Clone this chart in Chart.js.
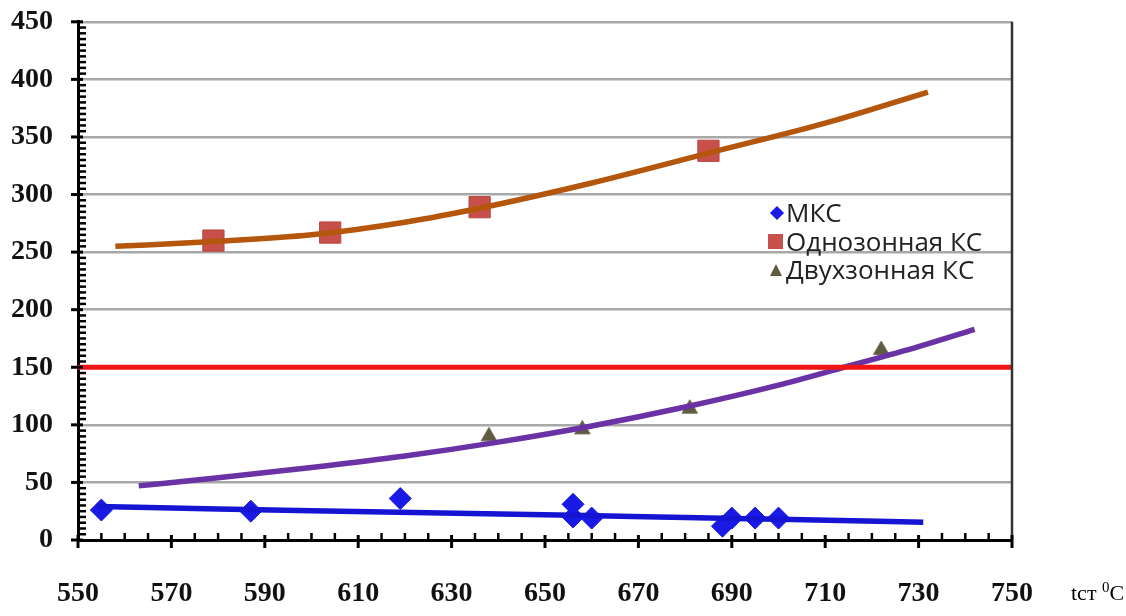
<!DOCTYPE html>
<html>
<head>
<meta charset="utf-8">
<script src="https://cdn.jsdelivr.net/npm/chart.js@4.4.1/dist/chart.umd.min.js"></script>
<style>
    body { margin: 0; background: #fff; }
    #wrap { position: relative; width: 1126px; height: 616px; overflow: hidden; }
    canvas { position: absolute; left: 0; top: -20px; }
    .legend { position: absolute; left: 766px; top: 198px; font-family: "Open Sans", "Liberation Sans", sans-serif; font-size: 26px; color: #222; }
    .legend .row { position: relative; height: 28.5px; line-height: 29px; padding-left: 20px; }
    .mk { position: absolute; }
    .mk.diamond { left: 6px; top: 10px; width: 10px; height: 10px; background: #1a1ae6; transform: rotate(45deg); }
    .mk.square { left: 2px; top: 7px; width: 15px; height: 15px; background: #c8504a; }
    .mk.tri { left: 4px; top: 9px; width: 0; height: 0; border-left: 6px solid transparent; border-right: 6px solid transparent; border-bottom: 12px solid #5e5b40; }
    .xtitle { position: absolute; left: 1071px; top: 580px; font-family: "Liberation Serif", "Times New Roman", serif; font-size: 22px; color: #000; }
    .xtitle sup { font-size: 15px; vertical-align: 8px; line-height: 0; }
</style>
</head>
<body>
<div id="wrap">
    <canvas id="tempChart" width="1126" height="636"></canvas>
    <div class="legend">
        <div class="row"><span class="mk diamond"></span>МКС</div>
        <div class="row"><span class="mk square"></span>Однозонная КС</div>
        <div class="row"><span class="mk tri"></span>Двухзонная КС</div>
    </div>
    <div class="xtitle">tст <sup>0</sup>C</div>
</div>
<script>
// Значения
const xRange = [550, 750];
const yRange = [0, 450];
const xStep = 20;
const yStep = 50;
const limitLevel = 150;

// МКС (точки)
const mksX = [555, 587, 619, 656, 656, 660, 688, 690, 695, 700];
const mksY = [26, 25, 36, 31, 20, 19, 12, 19, 19, 19];
// Однозонная КС (точки)
const oneZoneX = [579, 604, 636, 685];
const oneZoneY = [260, 267, 289, 338];
// Двухзонная КС (точки)
const twoZoneX = [638, 658, 681, 722];
const twoZoneY = [90, 96, 114, 165];

// линии тренда, считанные по картинке
const mksTrendX = [554, 580, 600, 628, 656, 680, 700, 731];
const mksTrendY = [29, 27, 25.5, 23.5, 21.5, 19.5, 18, 15.5];
const oneTrendX = [558, 578, 600, 620, 637, 660, 686, 710, 732];
const oneTrendY = [255, 259, 265, 276, 289, 310, 337, 362, 389];
const twoTrendX = [563, 580, 600, 620, 640, 660, 680, 700, 714, 730, 742];
const twoTrendY = [47, 54, 63, 73, 85, 99, 115.5, 134.5, 150, 168, 183];

function pts(xs, ys) {
    return xs.map((x, i) => ({ x: x, y: ys[i] }));
}

const trendStyle = {
    showLine: true,
    pointRadius: 0,
    borderWidth: 5.5,
    fill: false,
    order: 1,
    cubicInterpolationMode: 'monotone'
};

// засечки осей и правая рамка
const axisTicks = {
    id: 'axisTicks',
    afterDraw(chart) {
        const { ctx, chartArea: a, scales: { x, y } } = chart;
        ctx.save();
        ctx.strokeStyle = '#333';
        ctx.lineWidth = 2.5;
        ctx.beginPath();
        ctx.moveTo(a.right, a.top);
        ctx.lineTo(a.right, a.bottom);
        ctx.stroke();

        ctx.strokeStyle = '#000';
        for (let v = xRange[0]; v <= xRange[1]; v += 5) {
            const px = x.getPixelForValue(v);
            const major = (v - xRange[0]) % xStep === 0;
            ctx.lineWidth = major ? 3 : 2.5;
            ctx.beginPath();
            ctx.moveTo(px, a.bottom + (major ? 8 : 0));
            ctx.lineTo(px, a.bottom - (major ? 5 : 7));
            ctx.stroke();
        }
        for (let v = yRange[0]; v <= yRange[1]; v += 5) {
            const py = y.getPixelForValue(v);
            const major = v % yStep === 0;
            ctx.lineWidth = major ? 3 : 2.5;
            ctx.beginPath();
            ctx.moveTo(a.left - (major ? 7 : 0), py);
            ctx.lineTo(a.left + (major ? 5 : 8), py);
            ctx.stroke();
        }
        ctx.restore();
    }
};

document.addEventListener('DOMContentLoaded', function() {
    const ctx = document.getElementById('tempChart');
    window.tempChart = new Chart(ctx, {
        type: 'scatter',
        data: {
            datasets: [
                Object.assign({ label: 'limit', data: pts(xRange, [limitLevel, limitLevel]), borderColor: '#f01414' }, trendStyle, { borderWidth: 5, cubicInterpolationMode: 'default' }),
                Object.assign({ label: 'МКС тренд', data: pts(mksTrendX, mksTrendY), borderColor: '#1414d2' }, trendStyle),
                Object.assign({ label: 'Однозонная тренд', data: pts(oneTrendX, oneTrendY), borderColor: '#b4560c' }, trendStyle),
                Object.assign({ label: 'Двухзонная тренд', data: pts(twoTrendX, twoTrendY), borderColor: '#6a32a4' }, trendStyle),
                {
                    label: 'МКС',
                    data: pts(mksX, mksY),
                    order: 2,
                    pointStyle: 'rectRot',
                    pointRadius: 11,
                    backgroundColor: '#1a1ae6',
                    borderColor: '#1a1ae6',
                    borderWidth: 1
                },
                {
                    label: 'Однозонная КС',
                    data: pts(oneZoneX, oneZoneY),
                    order: 2,
                    pointStyle: 'rect',
                    pointRadius: 15,
                    backgroundColor: '#c8504a',
                    borderColor: '#b8443e',
                    borderWidth: 1
                },
                {
                    label: 'Двухзонная КС',
                    data: pts(twoZoneX, twoZoneY),
                    order: 2,
                    pointStyle: 'triangle',
                    pointRadius: 9,
                    backgroundColor: '#5e5b40',
                    borderColor: '#77745a',
                    borderWidth: 1
                }
            ]
        },
        options: {
            responsive: false,
            animation: false,
            devicePixelRatio: 1,
            layout: { padding: { left: 0, top: 2, right: 114, bottom: 0 } },
            plugins: {
                legend: { display: false },
                tooltip: { enabled: false }
            },
            scales: {
                x: {
                    type: 'linear',
                    min: xRange[0],
                    max: xRange[1],
                    afterFit: s => { s.height = 76; },
                    grid: { color: 'rgba(0,0,0,0)', drawTicks: false },
                    border: { display: true, color: '#000', width: 3 },
                    ticks: {
                        stepSize: xStep,
                        padding: 37,
                        color: '#111',
                        font: { family: '"Liberation Serif", "Times New Roman", serif', size: 28, weight: 'bold' }
                    }
                },
                y: {
                    min: yRange[0],
                    max: yRange[1],
                    afterFit: s => { s.width = 78; },
                    grid: { color: '#a8a8a8', lineWidth: 2.5, drawTicks: false },
                    border: { display: true, color: '#000', width: 3 },
                    ticks: {
                        stepSize: yStep,
                        padding: 25,
                        color: '#111',
                        font: { family: '"Liberation Serif", "Times New Roman", serif', size: 28, weight: 'bold' }
                    }
                }
            }
        },
        plugins: [axisTicks]
    });
});
</script>
</body>
</html>
